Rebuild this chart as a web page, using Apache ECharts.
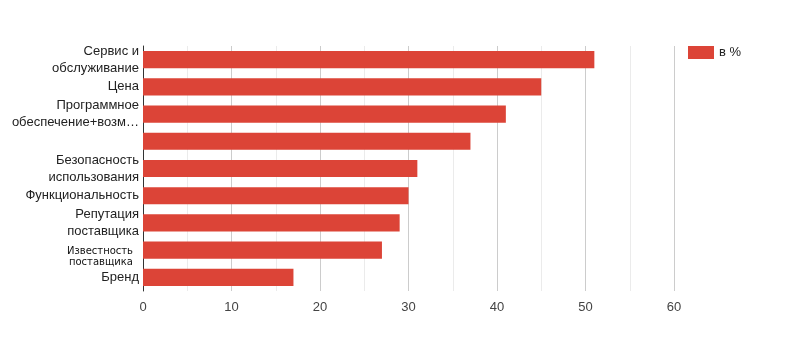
<!DOCTYPE html>
<html>
<head>
<meta charset="utf-8">
<script src="https://cdn.jsdelivr.net/npm/echarts@6/dist/echarts.min.js"></script>
<style>
    html, body { margin: 0; padding: 0; background: #fff; }
    #main { width: 793px; height: 353px; }
</style>
</head>
<body>
<div id="main"></div>
<script>
// данные графика
var categories = [
    'Сервис и\nобслуживание',
    'Цена',
    'Программное\nобеспечение+возм…',
    '',
    'Безопасность\nиспользования',
    'Функциональность',
    'Репутация\nпоставщика',
    'Известность\nпоставщика',
    'Бренд'
];
var values = [51, 45, 41, 37, 31, 30, 29, 27, 17];
var seriesName = 'в %';
var xTicks = [0, 10, 20, 30, 40, 50, 60];

// подпись "Известность поставщика" другим шрифтом и мельче
var smallLabel = 7;

var myChart = echarts.init(document.getElementById('main'));
myChart.setOption({
    animation: false,
    textStyle: { fontFamily: '"Liberation Sans", Arial, sans-serif' },
    legend: {
        left: 683,
        top: 41,
        icon: 'rect',
        itemWidth: 26,
        itemHeight: 13,
        itemGap: 5,
        textStyle: { fontSize: 13, color: '#222' },
        data: [seriesName]
    },
    grid: { left: 143, right: 119, top: 46, bottom: 62 },
    xAxis: {
        type: 'value',
        min: xTicks[0],
        max: xTicks[xTicks.length - 1],
        interval: 10,
        axisLine: { show: false },
        axisTick: { show: false },
        axisLabel: { fontSize: 13, color: '#444', margin: 10 },
        splitLine: { lineStyle: { color: '#cccccc' } },
        minorTick: { show: false, splitNumber: 2 },
        minorSplitLine: { show: true, lineStyle: { color: '#ebebeb' } }
    },
    yAxis: {
        type: 'category',
        inverse: true,
        data: categories,
        axisLine: { show: true, lineStyle: { color: '#333' } },
        axisTick: { show: false },
        axisLabel: {
            fontSize: 13, color: '#222', margin: 4, lineHeight: 17, interval: 0,
            formatter: function (v, i) {
                if (i !== smallLabel) return v;
                return '{e| }\n' + v.split('\n').map(function (s) {
                    return '{k|' + s + '}';
                }).join('\n');
            },
            rich: {
                e: { fontSize: 1, lineHeight: 14 },
                k: {
                    fontFamily: '"DejaVu Sans", Verdana, sans-serif',
                    fontSize: 10,
                    lineHeight: 11,
                    color: '#111',
                    padding: [0, 6, 0, 0]
                }
            }
        }
    },
    series: [{
        name: seriesName,
        type: 'bar',
        data: values,
        barCategoryGap: '37%',
        itemStyle: { color: '#dc4437' }
    }]
});
</script>
</body>
</html>
